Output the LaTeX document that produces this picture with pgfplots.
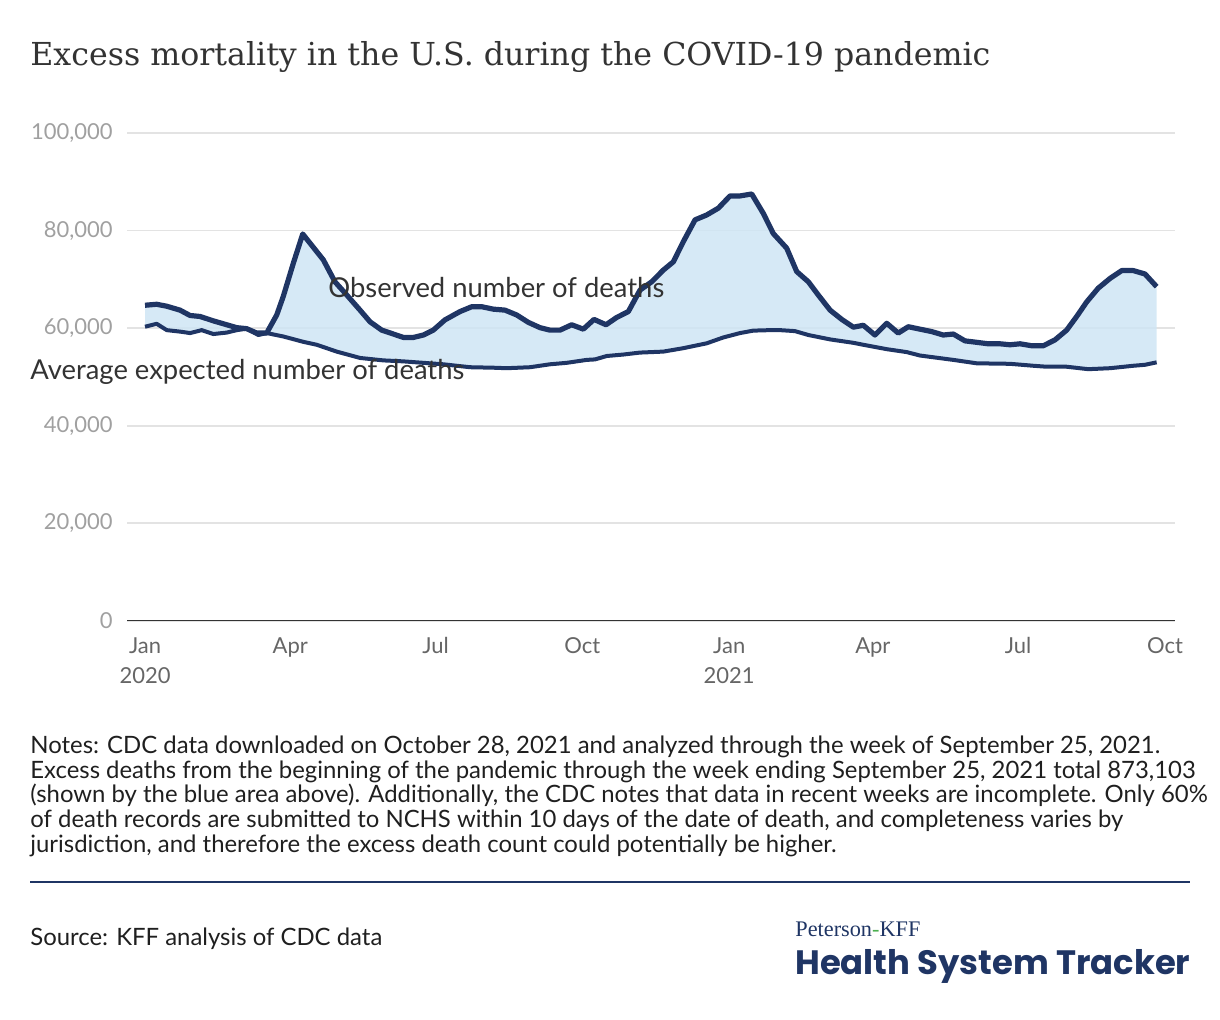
\documentclass[border=0pt]{standalone}
\usepackage{fontspec}
\setmainfont{Lato}
\newfontfamily\titlefont{DejaVu Serif}
\newfontfamily\logoserif{Liberation Serif}
\newfontfamily\logofont{Poppins}
\usepackage{graphicx}
\usepackage{pgfplots}
\usepackage{pgfplotstable}
\usepgfplotslibrary{fillbetween}
\pgfplotsset{compat=1.18}
\definecolor{navy}{HTML}{1F3564}
\definecolor{areablue}{HTML}{CFE5F4}
\definecolor{txt}{HTML}{333333}
\definecolor{ylab}{HTML}{A0A0A0}
\definecolor{xlab}{HTML}{666666}
\definecolor{gridc}{HTML}{E3E3E3}
\definecolor{kffgreen}{HTML}{4CAF50}

\begin{document}
\pgfplotstableread{
day deaths
0 64700
7.3 64900
13.6 64500
21.9 63700
28.2 62600
34.5 62400
42.8 61500
51.2 60700
57.5 60100
63.7 59900
70.0 59000
76.2 59000
82.5 62700
86.6 66500
92.9 73300
98.8 79300
104.4 77000
111.7 74000
119.0 69500
126.4 66800
134.7 63700
141.0 61300
148.3 59600
155.6 58800
161.9 58100
168.1 58100
174.4 58600
180.6 59600
187.9 61700
197.3 63400
204.7 64400
210.9 64400
218.2 63900
225.5 63700
232.9 62700
240.1 61200
247.5 60100
253.7 59600
260.0 59600
267.3 60700
274.6 59800
281.3 61800
288.8 60700
295.5 62200
302.8 63400
310.1 67800
317.4 69500
324.7 71900
331.0 73600
337.2 77700
344.6 82200
351.9 83200
359.2 84600
366.5 87100
372.8 87100
380.1 87500
387.4 83500
393.6 79400
402.0 76400
408.3 71600
415.6 69500
421.8 66800
429.2 63700
436.5 61800
443.8 60200
450.0 60600
457.3 58600
464.7 61000
471.9 59000
478.2 60300
485.5 59800
492.9 59300
500.1 58600
506.4 58800
513.7 57400
521.1 57100
528.3 56800
535.7 56800
541.9 56600
548.2 56800
555.5 56400
562.8 56400
570.1 57600
577.4 59600
583.7 62400
590.0 65400
597.2 68200
604.6 70200
611.9 71800
619.2 71800
626.5 71100
633.8 68500
}\observed
\pgfplotstableread{
day deaths
0 60300
7.3 60900
13.6 59600
21.9 59300
28.2 59000
35.5 59600
42.8 58800
51.2 59100
57.5 59600
63.7 59900
71.0 58600
76.2 59000
86.6 58300
99.2 57200
107.6 56600
120.1 55200
134.7 53900
149.3 53400
161.8 53200
174.4 52900
186.9 52600
203.6 52000
218.2 51900
226.6 51800
241.2 52000
253.7 52600
264.2 52900
276.7 53500
281.9 53600
289.3 54300
299.7 54600
310.1 55000
324.7 55200
337.2 55900
351.9 56900
362.3 58100
372.8 59000
381.1 59500
391.6 59600
397.8 59600
407.2 59400
415.6 58600
429.2 57700
443.8 57000
450.0 56600
464.7 55700
477.2 55100
485.5 54400
506.4 53500
521.1 52800
541.9 52700
556.5 52300
564.9 52100
577.4 52100
591.0 51600
604.6 51800
619.2 52300
626.5 52500
633.8 53000
}\expected
\begin{tikzpicture}
\path (0,0) rectangle (610pt,510pt);
\begin{axis}[
  at={(63.5pt,199.5pt)}, anchor=south west,
  scale only axis, width=524pt, height=244pt,
  xmin=-11.3, xmax=645.3, ymin=0, ymax=100000,
  xtick={0,91,182,274,366,456,547,639},
  xticklabels={{Jan\\2020},Apr,Jul,Oct,{Jan\\2021},Apr,Jul,Oct},
  ytick={0,20000,40000,60000,80000,100000},
  yticklabels={0,{20,000},{40,000},{60,000},{80,000},{100,000}},
  scaled y ticks=false,
  yticklabel style={font=\fontsize{11}{13}\selectfont, text=ylab, anchor=east, inner sep=0pt, xshift=-7pt},
  xticklabel style={font=\fontsize{11}{15}\selectfont, text=xlab, align=center, anchor=north, inner sep=0pt, yshift=-8pt},
  major tick length=0pt,
  axis line style={draw=none},
  ymajorgrids,
  grid style={gridc, line width=0.9pt},
]
\addplot[name path=exp, draw=none] table[x=day, y=deaths] {\expected};
\addplot[name path=obs, draw=none] table[x=day, y=deaths] {\observed};
\addplot[fill=areablue, fill opacity=0.85, draw=none] fill between[of=obs and exp];
\addplot[navy, line width=2pt, line join=round] table[x=day, y=deaths] {\expected};
\addplot[navy, line width=2.6pt, line join=round] table[x=day, y=deaths] {\observed};
\draw[txt, line width=1.1pt] (axis cs:-11.3,0) -- (axis cs:645.3,0);
\end{axis}

\begin{scope}[x=0.5pt, y=-0.5pt, yshift=510pt]
  \node[anchor=base west, inner sep=0pt, text=txt] at (30,66)
    {\resizebox{480pt}{!}{\titlefont Excess mortality in the U.S. during the COVID-19 pandemic}};
  \node[anchor=west, inner sep=0pt, text=txt, font=\fontsize{13.7}{15}\selectfont] at (328,288) {Observed number of deaths};
  \node[anchor=west, inner sep=0pt, text=txt, font=\fontsize{13.7}{15}\selectfont] at (30,372) {Average expected number of deaths};
  \begin{scope}[every node/.style={anchor=base west, inner sep=0pt, text=black!88, font=\fontsize{11.95}{13}\selectfont}]
  \node at (30,754) {Notes: CDC data downloaded on October 28, 2021 and analyzed through the week of September 25, 2021.};
  \node at (30,779) {Excess deaths from the beginning of the pandemic through the week ending September 25, 2021 total 873,103};
  \node at (30,803) {(shown by the blue area above). Additionally, the CDC notes that data in recent weeks are incomplete. Only 60\%};
  \node at (30,828) {of death records are submitted to NCHS within 10 days of the date of death, and completeness varies by};
  \node at (30,853) {jurisdiction, and therefore the excess death count could potentially be higher.};
  \node at (30,946) {Source: KFF analysis of CDC data};
  \end{scope}
  \draw[navy, line width=1pt] (30,882) -- (1190,882);
  \node[anchor=base west, inner sep=0pt, text=navy] at (795,937)
    {\resizebox{62.5pt}{!}{\logoserif Peterson\textcolor{kffgreen}{-}KFF}};
  \node[anchor=base west, inner sep=0pt, text=navy] at (795,975)
    {\resizebox{197.5pt}{!}{\logofont\bfseries Health System Tracker}};
\end{scope}
\end{tikzpicture}
\end{document}
